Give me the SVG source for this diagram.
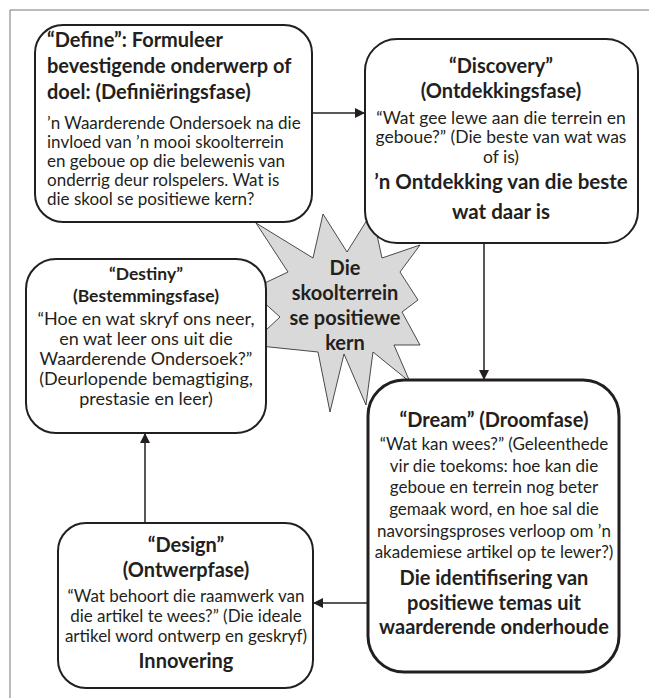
<svg xmlns="http://www.w3.org/2000/svg" width="649" height="698" viewBox="0 0 649 698">
<style>
.box{fill:#fff;stroke:#231f20;stroke-width:2}
.thick{stroke-width:3}
text{font-family:Lato,"Liberation Sans",sans-serif;fill:#231f20}
.b{font-weight:bold;font-size:20px}
.bs{font-weight:bold;font-size:17.5px}
.t{font-size:17px}
.t2{font-size:18px}
.c{text-anchor:middle}
.con{stroke:#231f20;stroke-width:1.5;fill:none}
</style>
<defs>
<marker id="arr" markerWidth="10" markerHeight="10" refX="9" refY="5" orient="auto" markerUnits="userSpaceOnUse">
<path d="M0,0 L10,5 L0,10 Z" fill="#231f20"/>
</marker>
</defs>
<rect width="649" height="698" fill="#fff"/>
<path d="M10,698 V10 H649" fill="none" stroke="#777" stroke-width="1"/>

<g id="star">
<polygon points="256,223 313,258 323,214 347,252 372,212 382,258 420,245 400,272 418,300 402,312 420,345 394,345 410,382 373,352 366,405 344,354 330,412 318,352 250,345 280,317 250,290 288,272" fill="#d9d9d9" stroke="#231f20" stroke-width="0.8"/>
<text class="b c" x="345" y="275">Die</text>
<text class="b c" x="345" y="300">skoolterrein</text>
<text class="b c" x="345" y="325">se positiewe</text>
<text class="b c" x="345" y="350">kern</text>
</g>

<g id="connectors">
<line class="con" x1="312" y1="113" x2="364" y2="113" marker-end="url(#arr)"/>
<line class="con" x1="484" y1="243" x2="484" y2="379" marker-end="url(#arr)"/>
<line class="con" x1="368" y1="603" x2="314" y2="603" marker-end="url(#arr)"/>
<line class="con" x1="145" y1="523" x2="145" y2="434" marker-end="url(#arr)"/>
</g>

<g id="define">
<rect class="box" x="35" y="25" width="277" height="197" rx="28"/>
<text class="b" x="47" y="47">“Define”: Formuleer</text>
<text class="b" x="47" y="73">bevestigende onderwerp of</text>
<text class="b" x="47" y="99">doel: (Definiëringsfase)</text>
<text class="t" x="47" y="129">’n Waarderende Ondersoek na die</text>
<text class="t" x="47" y="148">invloed van ’n mooi skoolterrein</text>
<text class="t" x="47" y="167">en geboue op die belewenis van</text>
<text class="t" x="47" y="186">onderrig deur rolspelers. Wat is</text>
<text class="t" x="47" y="205">die skool se positiewe kern?</text>
</g>

<g id="discovery">
<rect class="box" x="365" y="39" width="273" height="204" rx="32"/>
<text class="b c" x="501" y="73">“Discovery”</text>
<text class="b c" x="501" y="98">(Ontdekkingsfase)</text>
<text class="t c" x="501" y="124" style="font-size:17.5px">“Wat gee lewe aan die terrein en</text>
<text class="t c" x="501" y="143" style="font-size:17.5px">geboue?” (Die beste van wat was</text>
<text class="t c" x="501" y="163" style="font-size:17.5px">of is)</text>
<text class="b c" x="501" y="189" style="font-size:20.5px">’n Ontdekking van die beste</text>
<text class="b c" x="501" y="219" style="font-size:20.5px">wat daar is</text>
</g>

<g id="destiny">
<rect class="box" x="26" y="259" width="240" height="174" rx="30"/>
<text class="bs c" x="146" y="280">“Destiny”</text>
<text class="bs c" x="146" y="302">(Bestemmingsfase)</text>
<text class="t2 c" x="146" y="325">“Hoe en wat skryf ons neer,</text>
<text class="t2 c" x="146" y="345">en wat leer ons uit die</text>
<text class="t2 c" x="146" y="365">Waarderende Ondersoek?”</text>
<text class="t2 c" x="146" y="385">(Deurlopende bemagtiging,</text>
<text class="t2 c" x="146" y="405">prestasie en leer)</text>
</g>

<g id="dream">
<rect class="box thick" x="368" y="380" width="251" height="292" rx="36"/>
<text class="b c" x="494" y="427">“Dream” (Droomfase)</text>
<text class="t c" x="494" y="450">“Wat kan wees?” (Geleenthede</text>
<text class="t c" x="494" y="472">vir die toekoms: hoe kan die</text>
<text class="t c" x="494" y="493">geboue en terrein nog beter</text>
<text class="t c" x="494" y="515">gemaak word, en hoe sal die</text>
<text class="t c" x="494" y="537">navorsingsproses verloop om ’n</text>
<text class="t c" x="494" y="558">akademiese artikel op te lewer?)</text>
<text class="b c" x="494" y="585">Die identifisering van</text>
<text class="b c" x="494" y="610">positiewe temas uit</text>
<text class="b c" x="494" y="634">waarderende onderhoude</text>
</g>

<g id="design">
<rect class="box" x="58" y="523" width="255" height="165" rx="28"/>
<text class="b c" x="186" y="552">“Design”</text>
<text class="b c" x="186" y="577">(Ontwerpfase)</text>
<text class="t c" x="186" y="602">“Wat behoort die raamwerk van</text>
<text class="t c" x="186" y="622">die artikel te wees?” (Die ideale</text>
<text class="t c" x="186" y="642">artikel word ontwerp en geskryf)</text>
<text class="b c" x="186" y="668">Innovering</text>
</g>
</svg>
